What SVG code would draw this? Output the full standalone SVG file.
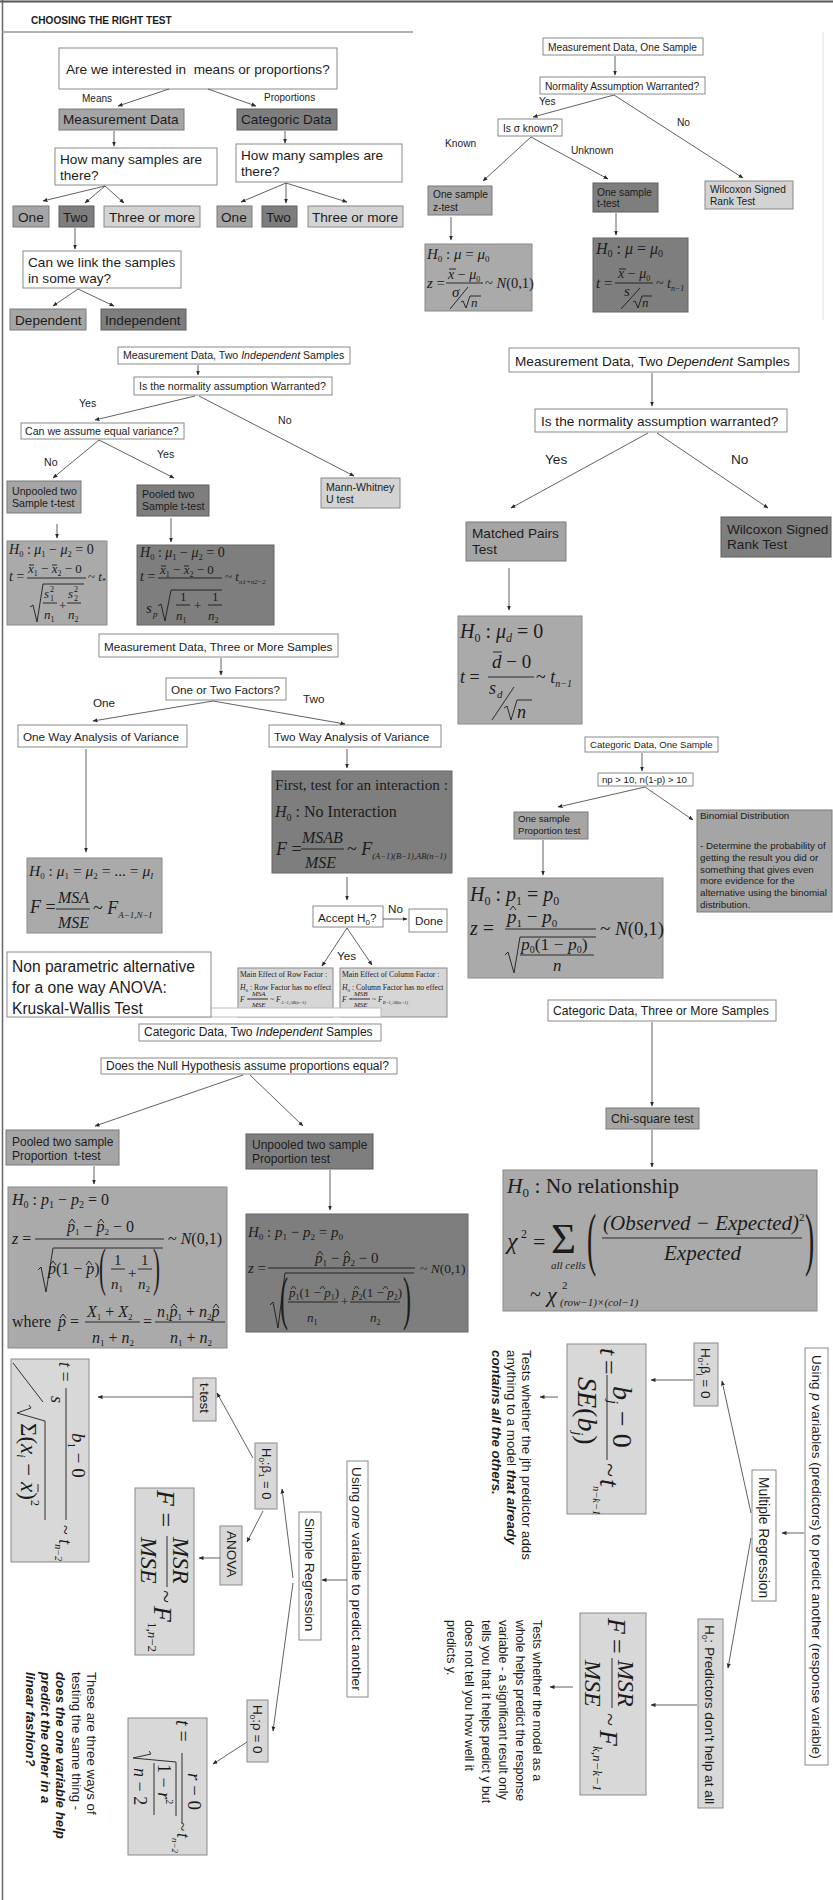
<svg xmlns="http://www.w3.org/2000/svg" width="833" height="1900" viewBox="0 0 833 1900">
<defs>
<marker id="ah" viewBox="0 0 10 10" refX="9" refY="5" markerWidth="5" markerHeight="5" markerUnits="userSpaceOnUse" orient="auto"><path d="M0,1 L10,5 L0,9 z" fill="#2a2a2a"/></marker>
<style>
text{fill:#1c1c1c}
.t{font-family:"Liberation Sans",Arial,Helvetica,sans-serif}
.m{font-family:"Liberation Serif","Times New Roman",serif;font-style:italic}
.r{font-family:"Liberation Serif","Times New Roman",serif;font-style:normal}
.n{font-style:normal}
.i{font-style:italic}
.bi{font-weight:bold;font-style:italic}
.bw{fill:#fff;stroke:#8a8a8a;stroke-width:1}
.bm{fill:#a5a5a5;stroke:#7a7a7a;stroke-width:1}
.bd{fill:#7e7e7e;stroke:#5e5e5e;stroke-width:1}
.bl{fill:#d3d3d3;stroke:#8a8a8a;stroke-width:1}
.fm{fill:#aaaaaa;stroke:#8a8a8a;stroke-width:1}
.fd{fill:#7e7e7e;stroke:#666;stroke-width:1}
.fl{fill:#d8d8d8;stroke:#8a8a8a;stroke-width:1}
.k{stroke:#1c1c1c;stroke-width:0.9;fill:none}
#connectors line{stroke:#3a3a3a;stroke-width:0.8;marker-end:url(#ah)}
</style>
</defs>
<rect x="0" y="0" width="833" height="1900" fill="#fff"/>
<g id="frame">
<line x1="0" y1="1.5" x2="833" y2="1.5" stroke="#555" stroke-width="2"/>
<line x1="2.5" y1="0" x2="2.5" y2="1900" stroke="#666" stroke-width="1.5"/>
<line x1="2" y1="32" x2="413" y2="32" stroke="#999" stroke-width="1.5"/>
<line x1="823" y1="32" x2="823" y2="320" stroke="#ddd" stroke-width="1"/>
<text class="t" x="31" y="24" font-size="10.1" font-weight="bold">CHOOSING THE RIGHT TEST</text>
</g>

<!-- Section 1 -->
<g class="t" font-size="13.6">
<g id="n-q1"><rect class="bw" x="59" y="48" width="278" height="41"/><text x="66" y="74">Are we interested in&#160; means or proportions?</text></g>
<g id="n-meas"><rect class="bm" x="59" y="109" width="125" height="21"/><text x="63" y="124">Measurement Data</text></g>
<g id="n-cat"><rect class="bd" x="237" y="109" width="100" height="21"/><text x="241" y="124">Categoric Data</text></g>
<g id="n-hm1"><rect class="bw" x="55" y="148" width="162" height="37"/><text x="60" y="164">How many samples are</text><text x="60" y="180">there?</text></g>
<g id="n-hm2"><rect class="bw" x="236" y="144" width="166" height="38"/><text x="241" y="160">How many samples are</text><text x="241" y="176">there?</text></g>
<g id="n-one1"><rect class="bm" x="13" y="206" width="36" height="21"/><text x="18" y="222">One</text></g>
<g id="n-two1"><rect class="bd" x="59" y="206" width="35" height="21"/><text x="63" y="222">Two</text></g>
<g id="n-three1"><rect class="bl" x="104" y="206" width="96" height="21"/><text x="109" y="222">Three or more</text></g>
<g id="n-one2"><rect class="bm" x="217" y="206" width="35" height="21"/><text x="221" y="222">One</text></g>
<g id="n-two2"><rect class="bd" x="262" y="206" width="35" height="21"/><text x="266" y="222">Two</text></g>
<g id="n-three2"><rect class="bl" x="308" y="206" width="95" height="21"/><text x="312" y="222">Three or more</text></g>
<g id="n-link"><rect class="bw" x="23" y="251" width="158" height="37"/><text x="28" y="267">Can we link the samples</text><text x="28" y="283">in some way?</text></g>
<g id="n-dep"><rect class="bm" x="10" y="309" width="76" height="21"/><text x="15" y="325">Dependent</text></g>
<g id="n-ind"><rect class="bd" x="101" y="309" width="85" height="21"/><text x="105" y="325">Independent</text></g>
</g>
<g id="labels1" class="t" font-size="10"><text x="82" y="102">Means</text><text x="264" y="101">Proportions</text></g>

<!-- Section 2: one sample -->
<g class="t" font-size="10.2">
<g id="n-ms1"><rect class="bw" x="543" y="38" width="160" height="17"/><text x="548" y="51">Measurement Data, One Sample</text></g>
<g id="n-norm1"><rect class="bw" x="540" y="77" width="165" height="17"/><text x="545" y="90">Normality Assumption Warranted?</text></g>
<g id="n-sigma"><rect class="bw" x="498" y="119" width="64" height="17"/><text x="503" y="132">Is σ known?</text></g>
<g id="n-ztest"><rect class="bm" x="428" y="186" width="64" height="29"/><text x="433" y="198">One sample</text><text x="433" y="211">z-test</text></g>
<g id="n-ttest"><rect class="bd" x="593" y="183" width="65" height="29"/><text x="597" y="196">One sample</text><text x="597" y="207">t-test</text></g>
<g id="n-wil1"><rect class="bl" x="705" y="181" width="88" height="28"/><text x="710" y="193">Wilcoxon Signed</text><text x="710" y="205">Rank Test</text></g>
<text x="539" y="105">Yes</text><text x="677" y="126">No</text><text x="445" y="147">Known</text><text x="571" y="154">Unknown</text>
</g>
<g id="f-z"><rect class="fm" x="425" y="244" width="107" height="67"/>
<text class="m" x="427" y="259" font-size="15">H<tspan class="n" font-size="9" dy="3">0</tspan><tspan class="n" dy="-3"> : </tspan>μ<tspan class="n"> = </tspan>μ<tspan class="n" font-size="9" dy="3">0</tspan></text>
<text class="m" x="427" y="288" font-size="15">z<tspan class="n"> =</tspan></text>
<text class="m" x="448" y="279" font-size="14">x<tspan class="n"> − </tspan>μ<tspan class="n" font-size="8" dy="3">0</tspan></text>
<line class="k" x1="449" y1="269" x2="456" y2="269"/>
<line class="k" x1="446" y1="283" x2="483" y2="283"/>
<text class="m" x="452" y="297" font-size="15">σ</text>
<line class="k" x1="450" y1="309" x2="468" y2="287"/>
<polyline class="k" points="461,302 463,301 466,308 470,296 481,296"/>
<text class="m" x="471" y="307" font-size="13">n</text>
<text class="r" x="485" y="288" font-size="14.5">~ <tspan class="i">N</tspan>(0,1)</text>
</g>
<g id="f-t1"><rect class="fd" x="593" y="238" width="95" height="74"/>
<text class="m" x="596" y="254" font-size="16">H<tspan class="n" font-size="10" dy="3">0</tspan><tspan class="n" dy="-3"> : </tspan>μ<tspan class="n"> = </tspan>μ<tspan class="n" font-size="10" dy="3">0</tspan></text>
<text class="m" x="596" y="288" font-size="15">t<tspan class="n"> =</tspan></text>
<text class="m" x="618" y="278" font-size="14">x<tspan class="n"> − </tspan>μ<tspan class="n" font-size="8" dy="3">0</tspan></text>
<line class="k" x1="619" y1="269" x2="626" y2="269"/>
<line class="k" x1="615" y1="283" x2="653" y2="283"/>
<text class="m" x="624" y="296" font-size="15">s</text>
<line class="k" x1="621" y1="309" x2="640" y2="288"/>
<polyline class="k" points="633,302 635,301 638,308 642,296 652,296"/>
<text class="m" x="642" y="307" font-size="13">n</text>
<text class="r" x="656" y="288" font-size="14">~ <tspan class="i">t</tspan><tspan class="i" font-size="8" dy="3">n−1</tspan></text>
</g>

<!-- Section 3: two independent -->
<g class="t" font-size="10.6">
<g id="n-ms2"><rect class="bw" x="118" y="347" width="232" height="17"/><text x="123" y="359">Measurement Data, Two <tspan class="i">Independent</tspan> Samples</text></g>
<g id="n-norm2"><rect class="bw" x="134" y="377" width="198" height="18"/><text x="139" y="390">Is the normality assumption Warranted?</text></g>
<g id="n-eqvar"><rect class="bw" x="21" y="423" width="163" height="16"/><text x="25" y="435">Can we assume equal variance?</text></g>
<g id="n-unp"><rect class="bm" x="7" y="481" width="74" height="32"/><text x="12" y="495">Unpooled two</text><text x="12" y="507">Sample t-test</text></g>
<g id="n-pool"><rect class="bd" x="137" y="485" width="72" height="31"/><text x="142" y="498">Pooled two</text><text x="142" y="510">Sample t-test</text></g>
<g id="n-mw"><rect class="bl" x="321" y="478" width="79" height="30"/><text x="326" y="491">Mann-Whitney</text><text x="326" y="503">U test</text></g>
<text x="79" y="407">Yes</text><text x="278" y="424">No</text><text x="44" y="466">No</text><text x="157" y="458">Yes</text>
</g>
<g id="f-unp"><rect class="fm" x="7" y="541" width="100" height="84"/>
<text class="m" x="9" y="554" font-size="14">H<tspan class="n" font-size="8.5" dy="2.5">0</tspan><tspan class="n" dy="-2.5"> : </tspan>μ<tspan class="n" font-size="8.5" dy="2.5">1</tspan><tspan class="n" dy="-2.5"> − </tspan>μ<tspan class="n" font-size="8.5" dy="2.5">2</tspan><tspan class="n" dy="-2.5"> = 0</tspan></text>
<text class="m" x="9" y="581" font-size="14">t<tspan class="n"> =</tspan></text>
<text class="m" x="28" y="573" font-size="13">x<tspan class="n" font-size="8" dy="3">1</tspan><tspan class="n" dy="-3"> − </tspan>x<tspan class="n" font-size="8" dy="3">2</tspan><tspan class="n" dy="-3"> − 0</tspan></text>
<line class="k" x1="29" y1="565" x2="34" y2="565"/><line class="k" x1="52" y1="565" x2="57" y2="565"/>
<line class="k" x1="27" y1="578" x2="86" y2="578"/>
<text class="r" x="88" y="581" font-size="13">~ <tspan class="i">t</tspan><tspan font-size="8" dy="3">*</tspan></text>
<polyline class="k" points="30,607 33,605 37,622 43,584 84,584"/>
<text class="m" x="44" y="598" font-size="13">s</text><text class="r" x="50" y="592" font-size="8">2</text><text class="r" x="50" y="601" font-size="8">1</text>
<line class="k" x1="43" y1="603" x2="57" y2="603"/>
<text class="m" x="44" y="619" font-size="13">n</text><text class="r" x="50.5" y="622" font-size="8">1</text>
<text class="r" x="59" y="610" font-size="13">+</text>
<text class="m" x="68" y="598" font-size="13">s</text><text class="r" x="74" y="592" font-size="8">2</text><text class="r" x="74" y="601" font-size="8">2</text>
<line class="k" x1="67" y1="603" x2="81" y2="603"/>
<text class="m" x="68" y="619" font-size="13">n</text><text class="r" x="74.5" y="622" font-size="8">2</text>
</g>
<g id="f-pool"><rect class="fd" x="137" y="545" width="137" height="80"/>
<text class="m" x="140" y="557" font-size="14">H<tspan class="n" font-size="8.5" dy="2.5">0</tspan><tspan class="n" dy="-2.5"> : </tspan>μ<tspan class="n" font-size="8.5" dy="2.5">1</tspan><tspan class="n" dy="-2.5"> − </tspan>μ<tspan class="n" font-size="8.5" dy="2.5">2</tspan><tspan class="n" dy="-2.5"> = 0</tspan></text>
<text class="m" x="140" y="581" font-size="14">t<tspan class="n"> =</tspan></text>
<text class="m" x="160" y="574" font-size="13">x<tspan class="n" font-size="8" dy="3">1</tspan><tspan class="n" dy="-3"> − </tspan>x<tspan class="n" font-size="8" dy="3">2</tspan><tspan class="n" dy="-3"> − 0</tspan></text>
<line class="k" x1="161" y1="566" x2="166" y2="566"/><line class="k" x1="184" y1="566" x2="189" y2="566"/>
<line class="k" x1="158" y1="578" x2="222" y2="578"/>
<text class="r" x="225" y="581" font-size="13">~ <tspan class="i">t</tspan><tspan class="i" font-size="7" dy="3">n1+n2−2</tspan></text>
<text class="m" x="146" y="613" font-size="15">s</text><text class="m" x="153" y="617" font-size="9">p</text>
<polyline class="k" points="158,606 161,604 165,621 171,590 222,590"/>
<text class="r" x="180" y="601" font-size="13">1</text><line class="k" x1="176" y1="605" x2="190" y2="605"/>
<text class="m" x="176" y="620" font-size="13">n</text><text class="r" x="182.5" y="623" font-size="8">1</text>
<text class="r" x="194" y="610" font-size="13">+</text>
<text class="r" x="212" y="601" font-size="13">1</text><line class="k" x1="208" y1="605" x2="222" y2="605"/>
<text class="m" x="208" y="620" font-size="13">n</text><text class="r" x="214.5" y="623" font-size="8">2</text>
</g>

<!-- Section 4: two dependent -->
<g class="t" font-size="13.6">
<g id="n-ms3"><rect class="bw" x="509" y="348" width="290" height="24"/><text x="515" y="366">Measurement Data, Two <tspan class="i">Dependent</tspan> Samples</text></g>
<g id="n-norm3"><rect class="bw" x="535" y="409" width="252" height="23"/><text x="541" y="426">Is the normality assumption warranted?</text></g>
<g id="n-match"><rect class="bm" x="466" y="522" width="100" height="39"/><text x="472" y="538">Matched Pairs</text><text x="472" y="554">Test</text></g>
<g id="n-wil2"><rect class="bd" x="721" y="517" width="110" height="40"/><text x="727" y="534">Wilcoxon Signed</text><text x="727" y="549">Rank Test</text></g>
<text x="545" y="464">Yes</text><text x="731" y="464">No</text>
</g>
<g id="f-match"><rect class="fm" x="458" y="616" width="124" height="108"/>
<text class="m" x="460" y="638" font-size="20">H<tspan class="n" font-size="12" dy="4">0</tspan><tspan class="n" dy="-4"> : </tspan>μ<tspan font-size="12" dy="4">d</tspan><tspan class="n" dy="-4"> = 0</tspan></text>
<text class="m" x="460" y="683" font-size="18">t<tspan class="n"> =</tspan></text>
<text class="m" x="492" y="668" font-size="19">d<tspan class="n"> − 0</tspan></text>
<line class="k" x1="493" y1="652" x2="502" y2="652"/>
<line class="k" x1="488" y1="677" x2="534" y2="677"/>
<text class="r" x="536" y="683" font-size="18">~ <tspan class="i">t</tspan><tspan class="i" font-size="10" dy="4">n−1</tspan></text>
<text class="m" x="489" y="694" font-size="18">s</text><text class="m" x="497" y="698" font-size="11">d</text>
<line class="k" x1="492" y1="720" x2="514" y2="687"/>
<polyline class="k" points="504,708 507,706 511,720 517,700 532,700"/>
<text class="m" x="517" y="718" font-size="18">n</text>
</g>

<!-- Section 5: three or more -->
<g class="t" font-size="11.7">
<g id="n-ms4"><rect class="bw" x="99" y="634" width="239" height="23"/><text x="104" y="651">Measurement Data, Three or More Samples</text></g>
<g id="n-fac"><rect class="bw" x="166" y="678" width="120" height="22"/><text x="171" y="694">One or Two Factors?</text></g>
<g id="n-oneway"><rect class="bw" x="18" y="725" width="169" height="22"/><text x="23" y="741">One Way Analysis of Variance</text></g>
<g id="n-twoway"><rect class="bw" x="269" y="725" width="172" height="22"/><text x="274" y="741">Two Way Analysis of Variance</text></g>
<g id="n-accept"><rect class="bw" x="313" y="906" width="70" height="21"/><text x="318" y="922">Accept H<tspan font-size="8" dy="3">0</tspan><tspan dy="-3">?</tspan></text></g>
<g id="n-done"><rect class="bw" x="409" y="909" width="38" height="23"/><text x="415" y="925">Done</text></g>
<text x="93" y="707">One</text><text x="303" y="703">Two</text><text x="388" y="913">No</text><text x="337" y="960">Yes</text>
</g>
<g id="f-one"><rect class="fm" x="27" y="858" width="135" height="75"/>
<text class="m" x="29" y="876" font-size="15.5">H<tspan class="n" font-size="9" dy="3">0</tspan><tspan class="n" dy="-3"> : </tspan>μ<tspan class="n" font-size="9" dy="3">1</tspan><tspan class="n" dy="-3"> = </tspan>μ<tspan class="n" font-size="9" dy="3">2</tspan><tspan class="n" dy="-3"> = ... = </tspan>μ<tspan font-size="9" dy="3">I</tspan></text>
<text class="m" x="30" y="913" font-size="18">F<tspan class="n"> =</tspan></text>
<text class="m" x="58" y="903" font-size="16">MSA</text>
<line class="k" x1="56" y1="909" x2="90" y2="909"/>
<text class="m" x="58" y="928" font-size="16">MSE</text>
<text class="r" x="93" y="914" font-size="18">~ <tspan class="i">F</tspan><tspan class="i" font-size="9" dy="4">A−1,N−I</tspan></text>
</g>
<g id="f-two"><rect class="fd" x="272" y="771" width="180" height="102"/>
<text class="r" x="275" y="790" font-size="15.2">First, test for an interaction :</text>
<text class="m" x="275" y="817" font-size="16">H<tspan class="n" font-size="10" dy="4">0</tspan><tspan class="n" dy="-4"> : No Interaction</tspan></text>
<text class="m" x="276" y="855" font-size="18">F<tspan class="n"> =</tspan></text>
<text class="m" x="302" y="843" font-size="16">MSAB</text>
<line class="k" x1="301" y1="849" x2="344" y2="849"/>
<text class="m" x="305" y="868" font-size="16">MSE</text>
<text class="r" x="347" y="855" font-size="18">~ <tspan class="i">F</tspan><tspan class="i" font-size="8.5" dy="4">(A−1)(B−1),AB(n−1)</tspan></text>
</g>
<g id="n-rowf"><rect x="238" y="968" width="95" height="49" fill="#d6d6d6" stroke="#8a8a8a"/>
<text class="r" x="240" y="977" font-size="7.7">Main Effect of Row Factor :</text>
<text class="m" x="240" y="990" font-size="7.7">H<tspan class="n" font-size="5" dy="2">0</tspan><tspan class="n" dy="-2"> : Row Factor has no effect</tspan></text>
<text class="m" x="240" y="1002" font-size="7.7">F<tspan class="n"> =</tspan></text>
<text class="m" x="252" y="996" font-size="7">MSA</text><line class="k" x1="251" y1="999" x2="268" y2="999" stroke-width="0.5"/><text class="m" x="252" y="1007" font-size="7">MSE</text>
<text class="r" x="270" y="1002" font-size="7.7">~ <tspan class="i">F</tspan><tspan class="i" font-size="4.5" dy="2">A−1,AB(n−1)</tspan></text>
</g>
<g id="n-colf"><rect x="340" y="968" width="107" height="49" fill="#d6d6d6" stroke="#8a8a8a"/>
<text class="r" x="342" y="977" font-size="7.7">Main Effect of Column Factor :</text>
<text class="m" x="342" y="990" font-size="7.7">H<tspan class="n" font-size="5" dy="2">0</tspan><tspan class="n" dy="-2"> : Column Factor has no effect</tspan></text>
<text class="m" x="342" y="1002" font-size="7.7">F<tspan class="n"> =</tspan></text>
<text class="m" x="354" y="996" font-size="7">MSB</text><line class="k" x1="353" y1="999" x2="370" y2="999" stroke-width="0.5"/><text class="m" x="354" y="1007" font-size="7">MSE</text>
<text class="r" x="372" y="1002" font-size="7.7">~ <tspan class="i">F</tspan><tspan class="i" font-size="4.5" dy="2">B−1,AB(n−1)</tspan></text>
</g>
<rect x="139" y="1008" width="242" height="9" fill="#fff" stroke="#bbb" stroke-width="1"/>
<g id="n-kw" class="t" font-size="15.6"><rect class="bw" x="7" y="952" width="204" height="65"/><text x="12" y="972">Non parametric alternative</text><text x="12" y="993">for a one way ANOVA:</text><text x="12" y="1014">Kruskal-Wallis Test</text></g>

<!-- Section 6: categoric one sample -->
<g class="t">
<g id="n-cs1" font-size="9.6"><rect class="bw" x="585" y="737" width="133" height="15"/><text x="590" y="748">Categoric Data, One Sample</text></g>
<g id="n-np" font-size="9.6"><rect class="bw" x="598" y="773" width="95" height="13"/><text x="602" y="783">np &gt; 10, n(1-p) &gt; 10</text></g>
<g id="n-prop1" font-size="9.6"><rect class="bm" x="514" y="812" width="74" height="27"/><text x="518" y="822">One sample</text><text x="518" y="834">Proportion test</text></g>
<g id="n-binom" font-size="9.8"><rect class="bm" x="697" y="810" width="135" height="102"/>
<text x="700" y="819">Binomial Distribution</text>
<text x="700" y="849">- Determine the probability of</text>
<text x="700" y="861">getting the result you did or</text>
<text x="700" y="873">something that gives even</text>
<text x="700" y="884">more evidence for the</text>
<text x="700" y="896">alternative using the binomial</text>
<text x="700" y="908">distribution.</text></g>
</g>
<g id="f-prop1"><rect class="fm" x="468" y="878" width="195" height="100"/>
<text class="m" x="470" y="901" font-size="20">H<tspan class="n" font-size="12" dy="4">0</tspan><tspan class="n" dy="-4"> : </tspan>p<tspan class="n" font-size="12" dy="4">1</tspan><tspan class="n" dy="-4"> = </tspan>p<tspan class="n" font-size="12" dy="4">0</tspan></text>
<text class="m" x="470" y="935" font-size="20">z<tspan class="n"> =</tspan></text>
<text class="m" x="507" y="923" font-size="19">p<tspan class="n" font-size="11" dy="4">1</tspan><tspan class="n" dy="-4"> − </tspan>p<tspan class="n" font-size="11" dy="4">0</tspan></text>
<polyline class="k" points="510,910 513,906 516,910"/>
<line class="k" x1="505" y1="929" x2="596" y2="929"/>
<polyline class="k" points="505,955 508,952 514,973 520,937 596,937"/>
<text class="m" x="521" y="950" font-size="17.5">p<tspan class="n" font-size="10" dy="3">0</tspan><tspan class="n" dy="-3">(1 − </tspan>p<tspan class="n" font-size="10" dy="3">0</tspan><tspan class="n" dy="-3">)</tspan></text>
<line class="k" x1="520" y1="955" x2="594" y2="955"/>
<text class="m" x="553" y="971" font-size="17">n</text>
<text class="r" x="600" y="935" font-size="19">~ <tspan class="i">N</tspan>(0,1)</text>
</g>

<!-- Section 7: categoric two independent -->
<g class="t" font-size="12">
<g id="n-cs2"><rect class="bw" x="139" y="1024" width="242" height="17"/><text x="144" y="1036">Categoric Data, Two <tspan class="i">Independent</tspan> Samples</text></g>
<g id="n-null"><rect class="bw" x="101" y="1058" width="296" height="16"/><text x="106" y="1070">Does the Null Hypothesis assume proportions equal?</text></g>
<g id="n-pp"><rect class="bm" x="6" y="1130" width="113" height="35"/><text x="12" y="1146">Pooled two sample</text><text x="12" y="1160">Proportion&#160; t-test</text></g>
<g id="n-up"><rect class="bd" x="246" y="1134" width="127" height="35"/><text x="252" y="1149">Unpooled two sample</text><text x="252" y="1163">Proportion test</text></g>
</g>
<g id="f-pp"><rect class="fm" x="8" y="1187" width="219" height="161"/>
<text class="m" x="12" y="1205" font-size="16">H<tspan class="n" font-size="10" dy="3">0</tspan><tspan class="n" dy="-3"> : </tspan>p<tspan class="n" font-size="10" dy="3">1</tspan><tspan class="n" dy="-3"> − </tspan>p<tspan class="n" font-size="10" dy="3">2</tspan><tspan class="n" dy="-3"> = 0</tspan></text>
<text class="m" x="12" y="1244" font-size="16">z<tspan class="n"> =</tspan></text>
<text class="m" x="67" y="1232" font-size="16">p<tspan class="n" font-size="9" dy="3">1</tspan><tspan class="n" dy="-3"> − </tspan>p<tspan class="n" font-size="9" dy="3">2</tspan><tspan class="n" dy="-3"> − 0</tspan></text>
<polyline class="k" points="69,1223 72,1219 75,1223"/><polyline class="k" points="98,1223 101,1219 104,1223"/>
<line class="k" x1="35" y1="1239" x2="164" y2="1239"/>
<text class="r" x="168" y="1244" font-size="16">~ <tspan class="i">N</tspan>(0,1)</text>
<polyline class="k" points="38,1270 41,1267 46,1292 53,1248 163,1248"/>
<text class="m" x="48" y="1274" font-size="16">p<tspan class="n">(1 − </tspan>p<tspan class="n">)</tspan></text>
<polyline class="k" points="50,1265 53,1261 56,1265"/><polyline class="k" points="86,1265 89,1261 92,1265"/>
<text class="r" font-size="52" transform="translate(99,1285) scale(0.4,1)">(</text>
<text class="r" x="114" y="1265" font-size="15">1</text><line class="k" x1="111" y1="1269" x2="125" y2="1269"/>
<text class="m" x="111" y="1289" font-size="15">n</text><text class="r" x="118.5" y="1292" font-size="9">1</text>
<text class="r" x="128" y="1278" font-size="15">+</text>
<text class="r" x="141" y="1265" font-size="15">1</text><line class="k" x1="138" y1="1269" x2="152" y2="1269"/>
<text class="m" x="138" y="1289" font-size="15">n</text><text class="r" x="145.5" y="1292" font-size="9">2</text>
<text class="r" font-size="52" transform="translate(153,1285) scale(0.4,1)">)</text>
<text class="r" x="12" y="1327" font-size="16">where</text>
<text class="m" x="58" y="1327" font-size="16">p<tspan class="n"> =</tspan></text>
<polyline class="k" points="60,1318 63,1314 66,1318"/>
<text class="m" x="87" y="1317" font-size="16">X<tspan class="n" font-size="9" dy="3">1</tspan><tspan class="n" dy="-3"> + </tspan>X<tspan class="n" font-size="9" dy="3">2</tspan></text>
<line class="k" x1="85" y1="1322" x2="140" y2="1322"/>
<text class="m" x="92" y="1343" font-size="16">n<tspan class="n" font-size="9" dy="3">1</tspan><tspan class="n" dy="-3"> + </tspan>n<tspan class="n" font-size="9" dy="3">2</tspan></text>
<text class="r" x="143" y="1327" font-size="16">=</text>
<text class="m" x="157" y="1317" font-size="16">n<tspan class="n" font-size="9" dy="3">1</tspan><tspan dy="-3">p</tspan><tspan class="n" font-size="9" dy="3">1</tspan><tspan class="n" dy="-3"> + </tspan>n<tspan class="n" font-size="9" dy="3">2</tspan><tspan dy="-3">p</tspan></text>
<polyline class="k" points="171,1308 174,1304 177,1308"/><polyline class="k" points="213,1308 216,1304 219,1308"/>
<line class="k" x1="155" y1="1322" x2="225" y2="1322"/>
<text class="m" x="170" y="1343" font-size="16">n<tspan class="n" font-size="9" dy="3">1</tspan><tspan class="n" dy="-3"> + </tspan>n<tspan class="n" font-size="9" dy="3">2</tspan></text>
</g>
<g id="f-up"><rect class="fd" x="246" y="1214" width="222" height="118"/>
<text class="m" x="248" y="1237" font-size="15">H<tspan class="n" font-size="9" dy="3">0</tspan><tspan class="n" dy="-3"> : </tspan>p<tspan class="n" font-size="9" dy="3">1</tspan><tspan class="n" dy="-3"> − </tspan>p<tspan class="n" font-size="9" dy="3">2</tspan><tspan class="n" dy="-3"> = </tspan>p<tspan class="n" font-size="9" dy="3">0</tspan></text>
<text class="m" x="248" y="1273" font-size="15">z<tspan class="n"> =</tspan></text>
<text class="m" x="315" y="1263" font-size="15">p<tspan class="n" font-size="9" dy="3">1</tspan><tspan class="n" dy="-3"> − </tspan>p<tspan class="n" font-size="9" dy="3">2</tspan><tspan class="n" dy="-3"> − 0</tspan></text>
<polyline class="k" points="317,1255 320,1251 323,1255"/><polyline class="k" points="344,1255 347,1251 350,1255"/>
<line class="k" x1="268" y1="1268" x2="415" y2="1268"/>
<text class="r" x="420" y="1273" font-size="13.5">~ <tspan class="i">N</tspan>(0,1)</text>
<polyline class="k" points="270,1305 273,1302 278,1328 285,1273 414,1273"/>
<text class="r" font-size="60" transform="translate(280,1318) scale(0.4,1)">(</text>
<text class="m" x="289" y="1297" font-size="13">p<tspan class="n" font-size="8" dy="3">1</tspan><tspan class="n" dy="-3">(1 − </tspan>p<tspan class="n" font-size="8" dy="3">1</tspan><tspan class="n" dy="-3">)</tspan></text>
<polyline class="k" points="291,1289 293.5,1286 296,1289"/><polyline class="k" points="320,1289 322.5,1286 325,1289"/>
<line class="k" x1="288" y1="1302" x2="338" y2="1302"/>
<text class="m" x="307" y="1322" font-size="13">n<tspan class="n" font-size="8" dy="3">1</tspan></text>
<text class="r" x="341" y="1306" font-size="13">+</text>
<text class="m" x="352" y="1297" font-size="13">p<tspan class="n" font-size="8" dy="3">2</tspan><tspan class="n" dy="-3">(1 − </tspan>p<tspan class="n" font-size="8" dy="3">2</tspan><tspan class="n" dy="-3">)</tspan></text>
<polyline class="k" points="354,1289 356.5,1286 359,1289"/><polyline class="k" points="383,1289 385.5,1286 388,1289"/>
<line class="k" x1="350" y1="1302" x2="400" y2="1302"/>
<text class="m" x="370" y="1322" font-size="13">n<tspan class="n" font-size="8" dy="3">2</tspan></text>
<text class="r" font-size="60" transform="translate(403,1318) scale(0.4,1)">)</text>
</g>

<!-- Section 8: categoric three or more -->
<g class="t" font-size="12.2">
<g id="n-cs3"><rect class="bw" x="548" y="1000" width="228" height="21"/><text x="553" y="1015">Categoric Data, Three or More Samples</text></g>
<g id="n-chi"><rect class="bm" x="606" y="1108" width="93" height="21"/><text x="611" y="1123">Chi-square test</text></g>
</g>
<g id="f-chi"><rect class="fm" x="503" y="1170" width="314" height="141"/>
<text class="m" x="507" y="1193" font-size="21.5">H<tspan class="n" font-size="13" dy="4">0</tspan><tspan class="n" dy="-4"> : No relationship</tspan></text>
<text class="m" x="507" y="1249" font-size="24">χ</text><text class="r" x="521" y="1238" font-size="12">2</text>
<text class="r" x="533" y="1249" font-size="22">=</text>
<text class="r" x="551" y="1253" font-size="43">Σ</text>
<text class="m" x="551" y="1269" font-size="11">all cells</text>
<text class="r" font-size="69" transform="translate(587,1262) scale(0.4,1)">(</text>
<text class="m" x="603" y="1230" font-size="21">(Observed − Expected)<tspan class="n" font-size="11" dy="-9">2</tspan></text>
<line class="k" x1="602" y1="1238" x2="802" y2="1238"/>
<text class="m" x="664" y="1260" font-size="21">Expected</text>
<text class="r" font-size="69" transform="translate(805,1262) scale(0.4,1)">)</text>
<text class="r" x="530" y="1301" font-size="20">~</text>
<text class="m" x="547" y="1302" font-size="22">χ</text><text class="r" x="562" y="1289" font-size="11">2</text>
<text class="m" x="560" y="1306" font-size="11">(row−1)×(col−1)</text>
</g>

<!-- Section 9: simple regression (rotated) -->
<g class="t" font-size="13.5">
<g id="n-using1"><rect class="bw" x="347" y="1461" width="21" height="236"/><text font-size="13.7" transform="translate(352,1467) rotate(90)">Using <tspan class="i">one</tspan> variable to predict another</text></g>
<g id="n-simple"><rect class="bw" x="299" y="1512" width="22" height="128"/><text transform="translate(305,1518) rotate(90)">Simple Regression</text></g>
<g id="n-hb1"><rect class="fl" x="255" y="1443" width="22" height="66"/><text font-size="13" transform="translate(262,1448) rotate(90)">H<tspan font-size="8" dy="3">0</tspan><tspan dy="-3">:β</tspan><tspan font-size="8" dy="3">1</tspan><tspan dy="-3"> = 0</tspan></text></g>
<g id="n-tt"><rect class="fl" x="193" y="1378" width="23" height="43"/><text transform="translate(200,1383) rotate(90)">t-test</text></g>
<g id="n-anova"><rect class="fl" x="220" y="1526" width="22" height="59"/><text transform="translate(226.5,1531) rotate(90)">ANOVA</text></g>
<g id="n-hrho"><rect class="fl" x="247" y="1700" width="21" height="62"/><text transform="translate(253,1705) rotate(90)">H<tspan font-size="8" dy="3">0</tspan><tspan dy="-3">:ρ = 0</tspan></text></g>
<g id="n-three-ways" font-size="13.3">
<text transform="translate(86.5,1672) rotate(90)">These are three ways of</text>
<text transform="translate(71.5,1672) rotate(90)">testing the same thing -</text>
<text class="bi" transform="translate(55.5,1672) rotate(90)">does the one variable help</text>
<text class="bi" transform="translate(40.5,1672) rotate(90)">predict the other in a</text>
<text class="bi" transform="translate(25.5,1672) rotate(90)">linear fashion?</text>
</g>
</g>
<g id="f-tslope" transform="translate(89,1359) rotate(90)"><rect class="fl" x="0" y="0" width="203" height="78"/>
<text class="m" x="3" y="30" font-size="18">t<tspan class="n"> =</tspan></text>
<line class="k" x1="29" y1="23" x2="161" y2="23"/>
<text class="m" x="74" y="17" font-size="19">b<tspan class="n" font-size="11" dy="4">1</tspan><tspan class="n" dy="-4"> − 0</tspan></text>
<text class="m" x="37" y="38" font-size="18">s</text>
<line class="k" x1="4" y1="76" x2="43" y2="46"/>
<polyline class="k" points="46,60 49,58 54,72 62,44 161,44"/>
<text class="r" x="64" y="68" font-size="23">Σ(<tspan class="i">x</tspan><tspan class="i" font-size="12" dy="4">i</tspan><tspan dy="-4"> − </tspan><tspan class="i">x</tspan>)<tspan font-size="12" dy="-10">2</tspan></text>
<line class="k" x1="125" y1="51" x2="133" y2="51"/>
<text class="r" x="166" y="30" font-size="18">~ <tspan class="i">t</tspan><tspan class="i" font-size="10" dy="4">n−2</tspan></text>
</g>
<g id="f-F1" transform="translate(194,1488) rotate(90)"><rect class="fl" x="0" y="0" width="167" height="59"/>
<text class="m" x="2" y="37" font-size="26">F<tspan class="n"> =</tspan></text>
<line class="k" x1="48" y1="27" x2="99" y2="27"/>
<text class="m" x="49" y="21" font-size="24">MSR</text>
<text class="m" x="49" y="53" font-size="24">MSE</text>
<text class="r" x="102" y="36" font-size="24">~</text>
<text class="m" x="118" y="40" font-size="26">F</text>
<text class="r" x="134" y="46" font-size="13">1,<tspan class="i">n</tspan>−2</text>
</g>
<g id="f-r" transform="translate(207,1718) rotate(90)"><rect class="fl" x="0" y="0" width="137" height="79"/>
<text class="m" x="2" y="31" font-size="20">t<tspan class="n"> =</tspan></text>
<line class="k" x1="35" y1="25" x2="105" y2="25"/>
<text class="m" x="55" y="19" font-size="19">r<tspan class="n"> − 0</tspan></text>
<polyline class="k" points="33,58 36,56 40,74 44,31 98,31"/>
<text class="r" x="46" y="49" font-size="18">1 − <tspan class="i">r</tspan><tspan font-size="10" dy="-8">2</tspan></text>
<line class="k" x1="45" y1="53" x2="97" y2="53"/>
<text class="m" x="50" y="73" font-size="18">n<tspan class="n"> − 2</tspan></text>
<text class="r" x="104" y="30" font-size="17">~</text>
<text class="m" x="115" y="30" font-size="18">t</text>
<text class="m" x="120" y="35" font-size="9">n−2</text>
</g>

<!-- Section 10: multiple regression (rotated) -->
<g class="t" font-size="13.5">
<g id="n-using2"><rect class="bw" x="805" y="1348" width="23" height="417"/><text transform="translate(812,1355) rotate(90)">Using <tspan class="i">p</tspan> variables (predictors) to predict another (response variable)</text></g>
<g id="n-multi"><rect class="bw" x="752" y="1470" width="24" height="131"/><text font-size="13.8" transform="translate(759,1477) rotate(90)">Multiple Regression</text></g>
<g id="n-hbj"><rect class="fl" x="694" y="1343" width="24" height="63"/><text transform="translate(701,1348) rotate(90)">H<tspan font-size="8" dy="3">0</tspan><tspan dy="-3">:β</tspan><tspan font-size="8" dy="3">j</tspan><tspan dy="-3"> = 0</tspan></text></g>
<g id="n-hpred"><rect class="fl" x="698" y="1619" width="25" height="189"/><text font-size="13.7" transform="translate(705,1625) rotate(90)">H<tspan font-size="8" dy="3">0</tspan><tspan dy="-3">: Predictors don't help at all</tspan></text></g>
<g id="n-tests1" font-size="13.3">
<text transform="translate(521.5,1350) rotate(90)">Tests whether the jth predictor adds</text>
<text transform="translate(506.5,1350) rotate(90)">anything to a model <tspan class="bi">that already</tspan></text>
<text class="bi" transform="translate(491.5,1350) rotate(90)">contains all the others.</text>
</g>
<g id="n-tests2" font-size="12.4">
<text transform="translate(532.5,1620) rotate(90)">Tests whether the model as a</text>
<text transform="translate(515.5,1620) rotate(90)">whole helps predict the response</text>
<text transform="translate(498.5,1620) rotate(90)">variable - a significant result only</text>
<text transform="translate(482,1620) rotate(90)">tells you that it helps predict y but</text>
<text transform="translate(464.5,1620) rotate(90)">does not tell you how well it</text>
<text transform="translate(447,1620) rotate(90)">predicts y.</text>
</g>
</g>
<g id="f-tj" transform="translate(646,1344) rotate(90)"><rect class="fl" x="0" y="0" width="170" height="79"/>
<text class="m" x="4" y="46" font-size="26">t</text>
<text class="r" x="16" y="46" font-size="26">=</text>
<line class="k" x1="31" y1="39" x2="116" y2="39"/>
<text class="m" x="42" y="33" font-size="28">b<tspan font-size="14" dy="5">j</tspan><tspan class="n" dy="-5"> − 0</tspan></text>
<text class="m" x="33" y="68" font-size="28">SE<tspan class="n">(</tspan>b<tspan font-size="14" dy="5">j</tspan><tspan class="n" dy="-5">)</tspan></text>
<text class="r" x="119" y="44" font-size="26">~</text>
<text class="m" x="135" y="46" font-size="28">t</text>
<text class="m" x="142" y="53" font-size="10.5">n−k−1</text>
</g>
<g id="f-Fm" transform="translate(646,1613) rotate(90)"><rect class="fl" x="0" y="0" width="182" height="66"/>
<text class="m" x="5" y="38" font-size="26">F</text>
<text class="r" x="26" y="38" font-size="26">=</text>
<line class="k" x1="45" y1="34" x2="95" y2="34"/>
<text class="m" x="47" y="28" font-size="24">MSR</text>
<text class="m" x="47" y="61" font-size="24">MSE</text>
<text class="r" x="100" y="44" font-size="24">~</text>
<text class="m" x="117" y="46" font-size="26">F</text>
<text class="m" x="133" y="53" font-size="13">k,n−k−1</text>
</g>

<g id="connectors">
<line x1="169" y1="89" x2="118" y2="106"/>
<line x1="208" y1="89" x2="256" y2="106"/>
<line x1="114" y1="131" x2="114" y2="146"/>
<line x1="285" y1="131" x2="285" y2="143"/>
<line x1="105" y1="186" x2="43" y2="201"/>
<line x1="105" y1="186" x2="85" y2="203"/>
<line x1="105" y1="186" x2="124" y2="203"/>
<line x1="286" y1="183" x2="241" y2="202"/>
<line x1="286" y1="183" x2="286" y2="203"/>
<line x1="286" y1="183" x2="347" y2="202"/>
<line x1="75" y1="228" x2="75" y2="249"/>
<line x1="78" y1="289" x2="53" y2="306"/>
<line x1="78" y1="289" x2="114" y2="306"/>
<line x1="615" y1="56" x2="615" y2="75"/>
<line x1="614" y1="95" x2="533" y2="117"/>
<line x1="614" y1="95" x2="743" y2="178"/>
<line x1="531" y1="137" x2="483" y2="181"/>
<line x1="531" y1="137" x2="608" y2="179"/>
<line x1="451" y1="217" x2="451" y2="240"/>
<line x1="616" y1="213" x2="616" y2="235"/>
<line x1="198" y1="365" x2="198" y2="375"/>
<line x1="195" y1="396" x2="95" y2="420"/>
<line x1="199" y1="396" x2="354" y2="476"/>
<line x1="99" y1="440" x2="53" y2="478"/>
<line x1="99" y1="440" x2="174" y2="478"/>
<line x1="57" y1="524" x2="57" y2="538"/>
<line x1="171" y1="518" x2="171" y2="542"/>
<line x1="652" y1="373" x2="652" y2="406"/>
<line x1="648" y1="433" x2="511" y2="508"/>
<line x1="657" y1="433" x2="768" y2="508"/>
<line x1="509" y1="568" x2="509" y2="610"/>
<line x1="221" y1="658" x2="221" y2="675"/>
<line x1="213" y1="701" x2="93" y2="721"/>
<line x1="213" y1="701" x2="345" y2="724"/>
<line x1="86" y1="749" x2="86" y2="852"/>
<line x1="347" y1="749" x2="347" y2="768"/>
<line x1="347" y1="877" x2="347" y2="900"/>
<line x1="383" y1="919" x2="407" y2="919"/>
<line x1="347" y1="928" x2="322" y2="966"/>
<line x1="347" y1="928" x2="372" y2="965"/>
<line x1="642" y1="753" x2="642" y2="771"/>
<line x1="645" y1="787" x2="558" y2="807"/>
<line x1="645" y1="787" x2="693" y2="820"/>
<line x1="543" y1="840" x2="543" y2="875"/>
<line x1="243" y1="1075" x2="95" y2="1126"/>
<line x1="250" y1="1075" x2="303" y2="1126"/>
<line x1="94" y1="1166" x2="94" y2="1184"/>
<line x1="330" y1="1170" x2="330" y2="1210"/>
<line x1="652" y1="1022" x2="652" y2="1106"/>
<line x1="652" y1="1130" x2="652" y2="1167"/>
<line x1="347" y1="1580" x2="322" y2="1580"/>
<line x1="293" y1="1578" x2="282" y2="1489"/>
<line x1="293" y1="1583" x2="273" y2="1731"/>
<line x1="253" y1="1458" x2="217" y2="1393"/>
<line x1="263" y1="1511" x2="247" y2="1542"/>
<line x1="220" y1="1558" x2="199" y2="1558"/>
<line x1="193" y1="1397" x2="98" y2="1397"/>
<line x1="247" y1="1742" x2="213" y2="1764"/>
<line x1="804" y1="1533" x2="782" y2="1533"/>
<line x1="751" y1="1513" x2="722" y2="1381"/>
<line x1="751" y1="1538" x2="728" y2="1668"/>
<line x1="693" y1="1380" x2="651" y2="1380"/>
<line x1="558" y1="1397" x2="540" y2="1397"/>
<line x1="697" y1="1705" x2="651" y2="1705"/>
<line x1="573" y1="1687" x2="550" y2="1687"/>
</g>
</svg>
